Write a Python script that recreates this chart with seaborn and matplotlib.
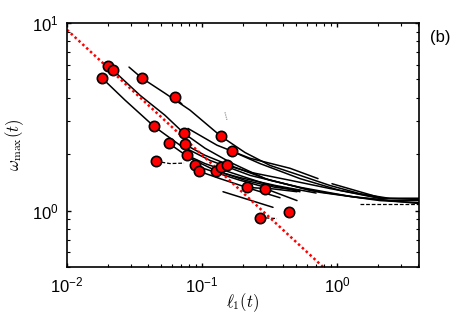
import numpy as np
import pandas as pd
import matplotlib
matplotlib.use("Agg")
import matplotlib.pyplot as plt
import seaborn as sns

# ---- data ----
# starting points of each trajectory (red circles)
start_l1 = [0.0181, 0.0200, 0.0218, 0.0357, 0.0628, 0.0441, 0.0736, 0.1382,
            0.0570, 0.0748, 0.1668, 0.0774, 0.0456, 0.0887, 0.0950, 0.1277,
            0.1382, 0.1532, 0.2154, 0.2929, 0.4441, 0.2689]
start_w = [5.08, 5.91, 5.63, 5.06, 4.04, 2.81, 2.58, 2.49,
           2.28, 2.25, 2.07, 1.97, 1.83, 1.74, 1.62, 1.62,
           1.71, 1.74, 1.33, 1.31, 0.98, 0.918]

# trajectories omega_max vs l1 (solid black)
traj_l1 = [
    [0.0288, 0.0359, 0.0532, 0.0815, 0.138, 0.208, 0.319, 0.532, 0.887, 1.48, 2.47, 4.05],
    [0.0631, 0.0711],
    [0.0182, 0.0269, 0.0441, 0.0687, 0.1147, 0.2268, 0.532, 1.248, 2.47, 4.05],
    [0.0201, 0.0219, 0.0347, 0.0532, 0.0736, 0.1052, 0.1612, 0.2929, 0.631, 1.48, 4.05],
    [0.0787, 0.1292, 0.2268, 0.4486, 0.7233],
    [0.1668, 0.2689, 0.532, 1.052, 2.082, 4.05],
    [0.0570, 0.0815, 0.1248, 0.2082, 0.3473, 0.5318],
    [0.0748, 0.1052, 0.1612, 0.319, 0.748, 2.082, 4.05],
    [0.0774, 0.1052, 0.1612, 0.2929, 0.5318],
    [0.0887, 0.1248, 0.1912, 0.319, 0.5055],
    [0.0950, 0.1359, 0.2268, 0.3783],
    [0.1431, 0.3357],
    [0.2154, 0.2929, 0.5055],
    [0.1532, 0.2268, 0.4486, 0.8873, 2.191, 4.05],
    [0.1277, 0.19, 0.35, 0.70],
    [0.918, 2.191],
]
traj_w = [
    [5.82, 5.08, 4.22, 3.43, 2.49, 2.04, 1.74, 1.54, 1.36, 1.23, 1.16, 1.145],
    [4.02, 3.69],
    [5.08, 3.88, 2.81, 2.23, 1.85, 1.54, 1.33, 1.19, 1.13, 1.13],
    [5.89, 5.61, 4.12, 3.22, 2.58, 2.15, 1.81, 1.48, 1.28, 1.17, 1.09],
    [2.74, 2.23, 1.90, 1.68, 1.48],
    [2.07, 1.78, 1.48, 1.28, 1.16, 1.16],
    [2.28, 1.90, 1.64, 1.45, 1.33, 1.28],
    [2.25, 1.97, 1.74, 1.45, 1.25, 1.13, 1.10],
    [1.97, 1.78, 1.60, 1.39, 1.26],
    [1.74, 1.60, 1.45, 1.31, 1.26],
    [1.62, 1.48, 1.31, 1.17],
    [1.26, 1.04],
    [1.33, 1.31, 1.13],
    [1.74, 1.60, 1.45, 1.31, 1.16, 1.16],
    [1.62, 1.50, 1.36, 1.24],
    [1.39, 1.16],
]

# short broken trajectories (dashed)
dash_l1 = [[0.0456, 0.0579, 0.0736], [0.2689, 0.3594], [1.48, 4.05]]
dash_w = [[1.83, 1.78, 1.79], [0.917, 0.906], [1.09, 1.09]]

# faint grey fragment
grey_l1 = [0.148, 0.1532]
grey_w = [3.34, 3.03]

# power law guide omega ~ C * l1^(-2/3)
guide_C = 0.427
guide_exp = -2.0 / 3.0
guide_l1 = [0.01, 0.02, 0.05, 0.1, 0.2, 0.5, 1.0]

# ---- figure ----
sns.set_style("ticks")
plt.rcParams["font.family"] = ["Liberation Sans", "DejaVu Sans"]
plt.rcParams["mathtext.fontset"] = "custom"
plt.rcParams["mathtext.rm"] = "Liberation Sans"
plt.rcParams["mathtext.it"] = "Liberation Sans:italic"
for k in ["text.color", "axes.labelcolor", "xtick.color", "ytick.color", "axes.edgecolor"]:
    plt.rcParams[k] = "black"

fig = plt.figure(figsize=(4.63, 3.13), dpi=100)
ax = fig.add_axes([0.1447, 0.147, 0.7603, 0.7795])

rows = []
for i, (xs, ys) in enumerate(zip(traj_l1, traj_w)):
    for x, y in zip(xs, ys):
        rows.append({"id": i, "l1": x, "w": y})
df = pd.DataFrame(rows)
for i, g in df.groupby("id"):
    sns.lineplot(data=g, x="l1", y="w", color="black", lw=1.1,
                 estimator=None, sort=False, ax=ax)

for xs, ys in zip(dash_l1, dash_w):
    sns.lineplot(x=xs, y=ys, color="black", lw=0.9, estimator=None,
                 sort=False, ax=ax, linestyle=(0, (3, 1.5)))

sns.lineplot(x=grey_l1, y=grey_w, color="0.5", lw=0.8, estimator=None,
             sort=False, ax=ax, linestyle=(0, (1, 1)))

gx = np.array(guide_l1)
sns.lineplot(x=gx, y=guide_C * gx ** guide_exp, color="red", lw=1.8,
             estimator=None, sort=False, ax=ax, linestyle=(0, (1, 1.1)))

sns.scatterplot(x=start_l1, y=start_w, color="red", edgecolor="black",
                linewidth=1.2, s=55, zorder=5, ax=ax)

ax.set_xscale("log")
ax.set_yscale("log")
ax.set_xlim(0.01, 4.05)
ax.set_ylim(0.5, 10)

ax.tick_params(which="both", direction="in", top=True, right=True,
               bottom=True, left=True, labelsize=12)
ax.tick_params(which="major", length=3, width=1.0, pad=6)
ax.tick_params(which="minor", length=2, width=0.8)
for s in ax.spines.values():
    s.set_linewidth(1.2)

ax.set_xlabel(r"$\ell_1(t)$", fontsize=12, math_fontfamily="cm", labelpad=-3)
ax.set_ylabel(r"$\omega_{\max}(t)$", fontsize=12, math_fontfamily="cm", labelpad=4)
fig.text(0.95, 0.88, "(b)", fontsize=12, ha="center", va="center")

plt.savefig("out.png", dpi=100)
